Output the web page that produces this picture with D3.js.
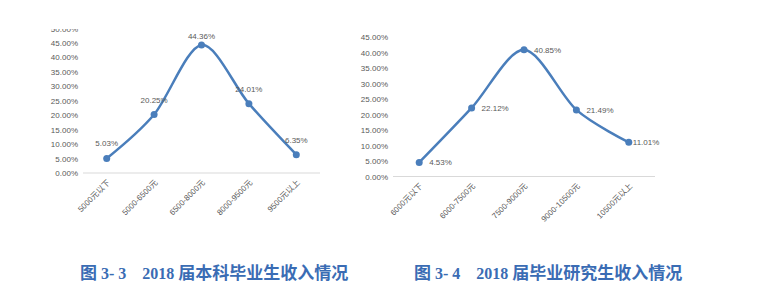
<!DOCTYPE html>
<html>
<script src="https://d3js.org/d3.v7.min.js"></script>
<style>
    body {
        margin: 0;
        background: #fff;
    }

    .tick-label {
        font-family: "Liberation Sans", "Noto Sans CJK SC", sans-serif;
        font-size: 8px;
        fill: #595959;
    }

    .caption {
        font-weight: bold;
        font-size: 16px;
        fill: #3a6cb4;
        white-space: pre;
    }
</style>

<body>
</body>
<script>
    const width = 781,
        height = 305;

    // 本科 (undergraduate)
    const ugCats = ["5000元以下", "5000-6500元", "6500-8000元", "8000-9500元", "9500元以上"];
    const ugVals = [5.03, 20.25, 44.36, 24.01, 6.35];
    const ugTicks = [0, 5, 10, 15, 20, 25, 30, 35, 40, 45, 50];

    // 研究生 (postgraduate)
    const pgCats = ["6000元以下", "6000-7500元", "7500-9000元", "9000-10500元", "10500元以上"];
    const pgVals = [4.53, 22.12, 40.85, 21.49, 11.01];
    const pgTicks = [0, 5, 10, 15, 20, 25, 30, 35, 40, 45];

    const lineColor = "#4a7ebb";

    const svg = d3.select("body").append("svg").attr("width", width).attr("height", height);

    function drawChart(opts) {
        const g = svg.append("g").attr("clip-path", `url(#${opts.id})`);
        svg.append("clipPath").attr("id", opts.id)
            .append("rect")
            .attr("x", 0).attr("y", opts.clipTop)
            .attr("width", width).attr("height", height);

        const x = d3.scaleBand()
            .domain(opts.cats)
            .range(opts.xRange);
        const y = d3.scaleLinear()
            .domain([0, d3.max(opts.ticks)])
            .range(opts.yRange);
        const cx = c => x(c) + x.bandwidth() / 2;

        // y tick labels
        g.selectAll(".ylab")
            .data(opts.ticks)
            .join("text")
            .attr("class", "tick-label")
            .attr("x", opts.xRange[0] - 5)
            .attr("y", d => y(d) + 3)
            .attr("text-anchor", "end")
            .text(d => d.toFixed(2) + "%");

        // axis line
        g.append("line")
            .attr("x1", opts.xRange[0])
            .attr("x2", opts.xRange[1])
            .attr("y1", y(0))
            .attr("y2", y(0))
            .attr("stroke", "#d9d9d9")
            .attr("stroke-width", 1);

        // x labels, rotated
        g.selectAll(".xlab")
            .data(opts.cats)
            .join("text")
            .attr("class", "tick-label")
            .attr("text-anchor", "end")
            .attr("transform", d => `translate(${cx(d) + 4},${y(0) + 10}) rotate(-45)`)
            .text(d => d);

        const pts = opts.cats.map((c, i) => ({ c: c, v: opts.vals[i], i: i }));

        const line = d3.line()
            .x(d => cx(d.c))
            .y(d => y(d.v))
            .curve(d3.curveCardinal.tension(0.1));

        g.append("path")
            .attr("fill", "none")
            .attr("stroke", lineColor)
            .attr("stroke-width", 2.5)
            .attr("d", line(pts));

        g.selectAll(".pt")
            .data(pts)
            .join("circle")
            .attr("r", 3.5)
            .attr("fill", lineColor)
            .attr("cx", d => cx(d.c))
            .attr("cy", d => y(d.v));

        // data labels
        g.selectAll(".dl")
            .data(pts)
            .join("text")
            .attr("class", "tick-label")
            .attr("text-anchor", opts.labelRight ? "start" : "middle")
            .attr("x", d => opts.labelRight ? cx(d.c) + (d.i === pts.length - 1 ? 4 : 10) : cx(d.c))
            .attr("y", d => opts.labelRight ? y(d.v) + 3 : Math.max(y(d.v) - 12, 39))
            .text(d => d.v.toFixed(2) + "%");
    }

    drawChart({
        id: "clipL",
        clipTop: 29,
        cats: ugCats,
        vals: ugVals,
        ticks: ugTicks,
        xRange: [83, 320],
        yRange: [173, 28.6],
        labelRight: false
    });

    drawChart({
        id: "clipR",
        clipTop: 0,
        cats: pgCats,
        vals: pgVals,
        ticks: pgTicks,
        xRange: [393, 655],
        yRange: [176.5, 37],
        labelRight: true
    });

    // captions
    function caption(x0, num, rest) {
        const t = svg.append("text")
            .attr("class", "caption")
            .attr("x", x0)
            .attr("y", 279);
        t.append("tspan").attr("font-family", "Noto Sans CJK SC").attr("font-size", 17).text("图");
        t.append("tspan").attr("font-family", "Liberation Serif").text(" " + num + "    2018 ");
        t.append("tspan").attr("font-family", "Noto Sans CJK SC").attr("font-size", 17).text(rest);
    }
    caption(80, "3- 3", "届本科毕业生收入情况");
    caption(414, "3- 4", "届毕业研究生收入情况");
</script>

</html>
